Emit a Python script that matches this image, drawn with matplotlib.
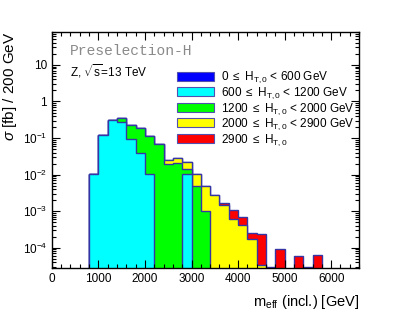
import numpy as np
import matplotlib
matplotlib.use("Agg")
import matplotlib.pyplot as plt
from matplotlib.patches import Patch
from matplotlib.ticker import FixedLocator, LogLocator, MultipleLocator, FuncFormatter

plt.rcParams['font.family'] = ['Liberation Sans', 'DejaVu Sans']
plt.rcParams['mathtext.fontset'] = 'custom'
plt.rcParams['mathtext.rm'] = 'Liberation Sans'
plt.rcParams['mathtext.it'] = 'Liberation Sans:italic'

# bin edges, 200 GeV wide
edges = np.arange(0, 6001, 200)

# cross section per bin [fb] for each H_T,0 slice
blue = {}
cyan = {800: 0.0102, 1000: 0.12, 1200: 0.315, 1400: 0.271, 1600: 0.093,
        1800: 0.0398, 2000: 0.0102, 2800: 0.0102}
green = {1400: 0.093, 1600: 0.141, 1800: 0.146, 2000: 0.101, 2200: 0.068,
         2400: 0.0199, 2600: 0.0212, 2800: 0.0037, 3000: 0.0049, 3200: 0.001}
yellow = {2400: 0.0058, 2600: 0.0071, 2800: 0.0081, 3000: 0.0053, 3200: 0.0039,
          3400: 0.0027, 3600: 0.00146, 3800: 0.00061, 4000: 0.00042,
          4200: 0.00017, 4400: 0.000034}
red = {3600: 0.00024, 3800: 0.00044, 4000: 0.00027, 4200: 0.00009,
       4400: 0.0002, 4600: 0.00003, 4800: 0.000091, 5200: 0.00006,
       5400: 0.00003, 5600: 0.000062}

labels = [r'0 $\leq$ H$_{\mathrm{T,0}}$ < 600 GeV',
          r'600 $\leq$ H$_{\mathrm{T,0}}$ < 1200 GeV',
          r'1200 $\leq$ H$_{\mathrm{T,0}}$ < 2000 GeV',
          r'2000 $\leq$ H$_{\mathrm{T,0}}$ < 2900 GeV',
          r'2900 $\leq$ H$_{\mathrm{T,0}}$']
colors = ['#0000ff', '#00ffff', '#00ff00', '#ffff00', '#ff0000']
comps = [blue, cyan, green, yellow, red]


def to_array(d):
    return np.array([d.get(int(e), 0.0) for e in edges[:-1]])


stack = np.cumsum([to_array(c) for c in comps], axis=0)
ymin, ymax = 2.8e-5, 80
outline = '#3535a5'

fig = plt.figure(figsize=(3.99, 3.16), dpi=100)
ax = fig.add_axes([0.130, 0.152, 0.770, 0.747])

# draw cumulative histograms from the top down, like a THStack
for vals, col in zip(stack[::-1], colors[::-1]):
    v = np.where(vals > 0, vals, 1e-9)
    if vals.max() <= 0:
        continue
    ax.stairs(v, edges, fill=True, baseline=1e-9, facecolor=col, edgecolor='none')
    ax.stairs(v, edges, baseline=1e-9, color=outline, lw=1.0)

ax.set_yscale('log')
ax.set_xlim(0, 6600)
ax.set_ylim(ymin, ymax)

ax.xaxis.set_major_locator(MultipleLocator(1000))
ax.xaxis.set_minor_locator(MultipleLocator(200))
ax.yaxis.set_major_locator(FixedLocator([1e-4, 1e-3, 1e-2, 1e-1, 1, 10]))
ax.yaxis.set_minor_locator(LogLocator(base=10, subs=np.arange(2, 10)))


def ylab(v, pos):
    if v == 1:
        return '1'
    if v == 10:
        return '10'
    return r'10$^{%d}$' % int(round(np.log10(v)))


ax.yaxis.set_major_formatter(FuncFormatter(ylab))
ax.tick_params(which='both', direction='in', top=True, right=True, labelsize=8.5, width=0.8)
ax.tick_params(which='major', length=6)
ax.tick_params(which='minor', length=3)
for s in ax.spines.values():
    s.set_linewidth(1.0)

ax.set_xlabel(r'm$_{\mathrm{eff}}$ (incl.) [GeV]', fontsize=10.5, loc='right', labelpad=6)
ax.set_ylabel(r'$\sigma$ [fb] / 200 GeV', fontsize=11, loc='top')
ax.yaxis.set_label_coords(-0.108, 1.0)

ax.text(0.06, 0.92, 'Preselection-H', transform=ax.transAxes, family='Liberation Mono',
        fontsize=10.5, color='#8a8a8a', va='center')
ax.text(0.06, 0.835, r'Z, $\sqrt{\mathrm{s}}$=13 TeV', transform=ax.transAxes,
        fontsize=8.5, va='center')

handles = [Patch(facecolor=c, edgecolor='#5050b0', lw=0.8) for c in colors]
ax.legend(handles, labels, loc='upper left', bbox_to_anchor=(0.407, 0.84),
          frameon=False, fontsize=8.5, handlelength=3.1, handleheight=0.8,
          labelspacing=0.0, handletextpad=0.6, borderpad=0, borderaxespad=0)

fig.savefig('out.png', dpi=100)
